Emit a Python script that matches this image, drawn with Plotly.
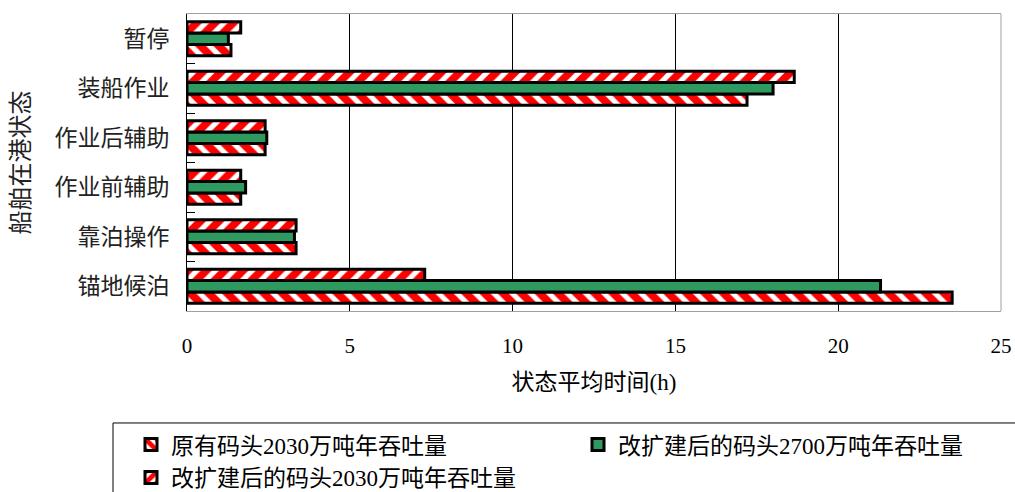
import plotly.graph_objects as go

# Ship in-port states (bottom to top on the chart)
states = ["锚地候泊", "靠泊操作", "作业前辅助", "作业后辅助", "装船作业", "暂停"]

# Average time per state, hours
orig_2030 = [23.5, 3.35, 1.65, 2.4, 17.2, 1.35]      # 原有码头2030万吨年吞吐量
expand_2700 = [21.3, 3.3, 1.8, 2.45, 18.0, 1.27]     # 改扩建后的码头2700万吨年吞吐量
expand_2030 = [7.3, 3.35, 1.65, 2.4, 18.65, 1.65]    # 改扩建后的码头2030万吨年吞吐量

series_names = [
    "原有码头2030万吨年吞吐量",
    "改扩建后的码头2700万吨年吞吐量",
    "改扩建后的码头2030万吨年吞吐量",
]

x_ticks = [0, 5, 10, 15, 20, 25]

SERIF = "Liberation Serif, Noto Sans CJK SC, serif"
SANS = "Noto Sans CJK SC, sans-serif"
GREEN = "#2e9a60"
OUTLINE = dict(color="black", width=3)

fig = go.Figure()

fig.add_trace(go.Bar(
    name=series_names[0], y=states, x=orig_2030, orientation="h",
    legend="legend", legendgroup="a",
    marker=dict(color="white", line=OUTLINE,
                pattern=dict(shape="\\", fgcolor="#ff0000", bgcolor="white",
                             fgopacity=1, size=13, solidity=0.6)),
))
fig.add_trace(go.Bar(
    name=series_names[1], y=states, x=expand_2700, orientation="h",
    legend="legend2", legendgroup="b",
    marker=dict(color=GREEN, line=OUTLINE),
))
fig.add_trace(go.Bar(
    name=series_names[2], y=states, x=expand_2030, orientation="h",
    legend="legend", legendgroup="c",
    marker=dict(color="white", line=OUTLINE,
                pattern=dict(shape="/", fgcolor="#ff0000", bgcolor="white",
                             fgopacity=1, size=13, solidity=0.6)),
))

legend_common = dict(
    orientation="v", traceorder="normal",
    xref="container", yref="container",
    xanchor="left", y=0.140, yanchor="top",
    borderwidth=0, bgcolor="rgba(0,0,0,0)",
    font=dict(family=SERIF, size=23, color="black"),
    itemwidth=30, tracegroupgap=6,
)

fig.update_layout(
    width=1015, height=492,
    margin=dict(l=187, r=14, t=14, b=181, autoexpand=False),
    paper_bgcolor="white", plot_bgcolor="white",
    barmode="group", bargap=0.31, bargroupgap=0,
    font=dict(family=SERIF, size=20, color="black"),
    showlegend=True,
    legend=dict(legend_common, x=131 / 1015),
    legend2=dict(legend_common, x=578 / 1015),
    xaxis=dict(
        range=[0, 25], tickvals=x_ticks, ticktext=[str(v) for v in x_ticks],
        showgrid=True, gridcolor="black", gridwidth=1,
        zeroline=False, showline=True, linecolor="#a0a0a0", linewidth=1,
        mirror=True, ticks="", ticklabelstandoff=16,
        tickfont=dict(family=SERIF, size=21, color="black"),
        title=dict(text="状态平均时间(h)", standoff=16,
                   font=dict(family=SERIF, size=23, color="black")),
        fixedrange=True,
    ),
    yaxis=dict(
        categoryorder="array", categoryarray=states,
        showgrid=False, zeroline=False,
        showline=True, linecolor="black", linewidth=1,
        ticks="inside", tickson="boundaries", ticklen=8, tickcolor="black",
        ticklabelstandoff=12,
        tickfont=dict(family=SANS, size=23, color="#222222"),
        fixedrange=True,
    ),
    annotations=[
        # y-axis title, placed by hand to the left of the category labels
        dict(text="船舶在港状态", textangle=-90, showarrow=False,
             xref="paper", yref="paper", x=(18 - 187) / 814, y=0.5,
             xanchor="center", yanchor="middle",
             font=dict(family=SANS, size=24, color="#222222")),
    ],
    shapes=[
        # right frame edge of the plot area
        dict(type="line", xref="paper", yref="paper", x0=1, x1=1, y0=0, y1=1,
             line=dict(color="#a0a0a0", width=1)),
        # outline around the legend block
        dict(type="rect", xref="paper", yref="paper",
             x0=-74 / 814, x1=1.05, y0=-0.377, y1=-0.7,
             line=dict(color="black", width=1), fillcolor="rgba(0,0,0,0)"),
    ],
)

fig.write_html("out.html")
